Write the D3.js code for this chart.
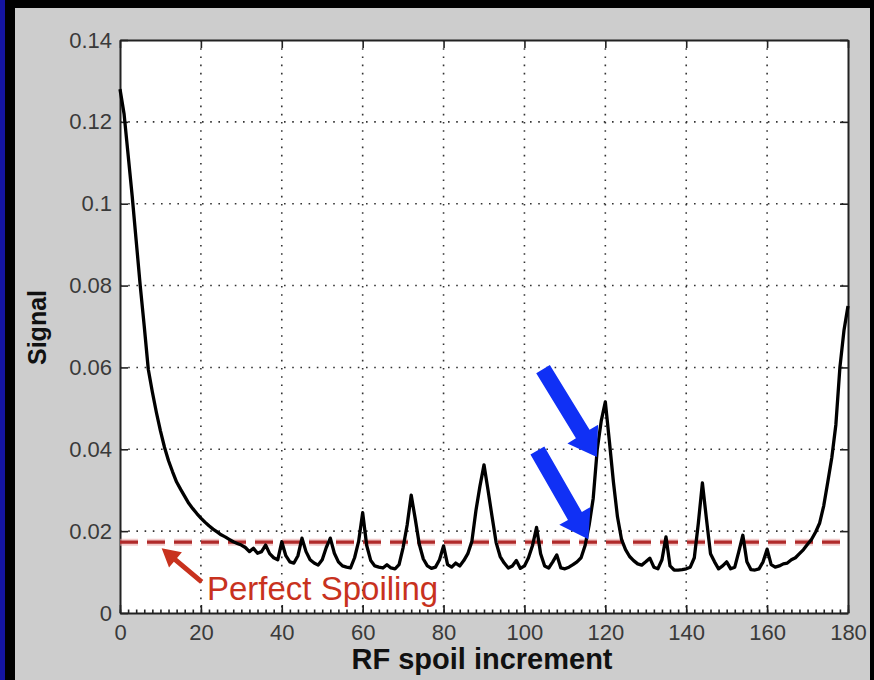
<!DOCTYPE html>
<html>
<head>
<meta charset="utf-8">
<script src="https://cdn.jsdelivr.net/npm/d3@7"></script>
<style>
  html, body { margin: 0; padding: 0; background: #000; }
  svg { display: block; }
</style>
</head>
<body>
<svg id="chart"></svg>
<script>
// RF spoil increment (degrees), one sample per degree
const increments = d3.range(0, 181);
const signal = [
  0.128, 0.122, 0.112, 0.102, 0.091, 0.080, 0.070, 0.0595, 0.054, 0.049,
  0.0445, 0.0405, 0.0372, 0.0345, 0.032, 0.0302, 0.0285, 0.0268, 0.0255, 0.0243,
  0.0232, 0.0222, 0.0213, 0.0205, 0.0198, 0.0191, 0.0186, 0.0180, 0.0174, 0.0170,
  0.0166, 0.0160, 0.0150, 0.0158, 0.0146, 0.0150, 0.0166, 0.0145, 0.0135, 0.0130,
  0.0174, 0.0140, 0.0125, 0.0122, 0.0140, 0.0183, 0.0150, 0.0130, 0.0122, 0.0117,
  0.0130, 0.0160, 0.0183, 0.0146, 0.0125, 0.0115, 0.0112, 0.0110, 0.0135, 0.0175,
  0.0245, 0.0165, 0.0128, 0.0115, 0.0112, 0.0110, 0.0118, 0.0110, 0.0108, 0.0118,
  0.0160, 0.0215, 0.0288, 0.0230, 0.0168, 0.0132, 0.0115, 0.0109, 0.0112, 0.0130,
  0.0164, 0.0118, 0.0112, 0.0122, 0.0115, 0.0128, 0.0145, 0.0175, 0.0250, 0.0310,
  0.0362, 0.0300, 0.0235, 0.0172, 0.0138, 0.0122, 0.0110, 0.0115, 0.0128, 0.0109,
  0.0115, 0.0135, 0.0165, 0.0209, 0.0145, 0.0115, 0.0110, 0.0125, 0.0142, 0.0110,
  0.0108, 0.0112, 0.0118, 0.0125, 0.0135, 0.0165, 0.0215, 0.0280, 0.0400, 0.0470,
  0.0516, 0.0420, 0.0320, 0.0235, 0.0180, 0.0155, 0.0138, 0.0128, 0.0120, 0.0117,
  0.0125, 0.0134, 0.0112, 0.0108, 0.0130, 0.0186, 0.0115, 0.0105, 0.0105, 0.0106,
  0.0108, 0.0112, 0.0135, 0.0220, 0.0318, 0.0230, 0.0145, 0.0125, 0.0108, 0.0115,
  0.0125, 0.0108, 0.0112, 0.0150, 0.0190, 0.0125, 0.0106, 0.0105, 0.0108, 0.0125,
  0.0156, 0.0118, 0.0112, 0.0115, 0.0120, 0.0122, 0.0130, 0.0135, 0.0145, 0.0155,
  0.0168, 0.0180, 0.0198, 0.0220, 0.0262, 0.0320, 0.0380, 0.0460, 0.0600, 0.0690,
  0.0750
];

const perfectSpoiling = 0.0173;

const xTicks = [0, 20, 40, 60, 80, 100, 120, 140, 160, 180];
const xMinorTicks = d3.range(0, 181, 2);
const yTicks = [0, 0.02, 0.04, 0.06, 0.08, 0.1, 0.12, 0.14];
const yTickLabels = ["0", "0.02", "0.04", "0.06", "0.08", "0.1", "0.12", "0.14"];

// annotation arrows, in data units: [x0, y0, x1, y1]
const blueArrows = [
  [104.6, 0.0596, 117.9, 0.0381],
  [103.2, 0.0397, 115.8, 0.0180]
];
const redArrow = [20.2, 0.0076, 10.3, 0.0158];
const labelPos = [21.5, 0.0032];

const W = 874, H = 680;
const plot = { left: 120, top: 40, right: 848, bottom: 613 };

const svg = d3.select('#chart').attr('width', W).attr('height', H);

svg.append('rect').attr('width', W).attr('height', H).attr('fill', '#000');
svg.append('rect').attr('x', 0).attr('y', 0).attr('width', 5).attr('height', H).attr('fill', '#1414a0');
svg.append('rect').attr('x', 15).attr('y', 8).attr('width', 855).attr('height', H - 8).attr('fill', '#cdcdcd');
svg.append('rect')
  .attr('x', plot.left).attr('y', plot.top)
  .attr('width', plot.right - plot.left).attr('height', plot.bottom - plot.top)
  .attr('fill', '#fff');

const x = d3.scaleLinear().domain([0, 180]).range([plot.left, plot.right]);
const y = d3.scaleLinear().domain([0, 0.14]).range([plot.bottom, plot.top]);

// dotted grid
const grid = svg.append('g').attr('stroke', '#333').attr('stroke-width', 1.6)
  .attr('stroke-dasharray', '1.6 6.6');
grid.selectAll('.gx').data(xTicks.slice(1, -1)).enter().append('line')
  .attr('x1', d => x(d)).attr('x2', d => x(d))
  .attr('y1', plot.top).attr('y2', plot.bottom);
grid.selectAll('.gy').data(yTicks.slice(1, -1)).enter().append('line')
  .attr('y1', d => y(d)).attr('y2', d => y(d))
  .attr('x1', plot.left).attr('x2', plot.right);

const font = '"Liberation Sans", Arial, Helvetica, sans-serif';

// axes with inward ticks
svg.append('g')
  .attr('transform', `translate(0,${plot.bottom})`)
  .call(d3.axisBottom(x).tickValues(xTicks).tickSizeInner(-8).tickSizeOuter(0).tickPadding(11));
svg.append('g')
  .attr('transform', `translate(0,${plot.bottom})`)
  .call(d3.axisBottom(x).tickValues(xMinorTicks).tickSizeInner(-3.5).tickSizeOuter(0).tickFormat(''))
  .call(g => g.select('.domain').remove());
svg.append('g')
  .attr('transform', `translate(0,${plot.top})`)
  .call(d3.axisTop(x).tickValues(xTicks).tickSizeInner(-8).tickSizeOuter(0).tickFormat(''));
svg.append('g')
  .attr('transform', `translate(${plot.left},0)`)
  .call(d3.axisLeft(y).tickValues(yTicks).tickSizeInner(-8).tickSizeOuter(0).tickPadding(8)
    .tickFormat((d, i) => yTickLabels[i]));
svg.append('g')
  .attr('transform', `translate(${plot.right},0)`)
  .call(d3.axisRight(y).tickValues(yTicks).tickSizeInner(-8).tickSizeOuter(0).tickFormat(''));

svg.selectAll('.domain').attr('stroke', '#222').attr('stroke-width', 2);
svg.selectAll('.tick line').attr('stroke', '#222').attr('stroke-width', 1.6);
svg.selectAll('.tick text').attr('fill', '#3a3a3a').style('font-family', font).style('font-size', '22px');

// reference line
svg.append('line')
  .attr('x1', x(0)).attr('x2', x(180))
  .attr('y1', y(perfectSpoiling)).attr('y2', y(perfectSpoiling))
  .attr('stroke', '#e9a3a3').attr('stroke-width', 7).attr('stroke-opacity', 0.55)
  .attr('stroke-dasharray', '18 9');
svg.append('line')
  .attr('x1', x(0)).attr('x2', x(180))
  .attr('y1', y(perfectSpoiling)).attr('y2', y(perfectSpoiling))
  .attr('stroke', '#b02a2a').attr('stroke-width', 3.2)
  .attr('stroke-dasharray', '18 9');

// signal curve
const line = d3.line().x((d, i) => x(increments[i])).y(d => y(d));
svg.append('path')
  .datum(signal)
  .attr('d', line)
  .attr('fill', 'none')
  .attr('stroke', '#000')
  .attr('stroke-width', 3.3)
  .attr('stroke-linejoin', 'round');

// arrows
function arrow(a, color, shaft, headW, headL) {
  const x0 = x(a[0]), y0 = y(a[1]), x1 = x(a[2]), y1 = y(a[3]);
  const dx = x1 - x0, dy = y1 - y0, len = Math.hypot(dx, dy);
  const ux = dx / len, uy = dy / len, px = -uy, py = ux;
  const bx = x1 - ux * headL, by = y1 - uy * headL;
  const pts = [
    [x0 + px * shaft / 2, y0 + py * shaft / 2],
    [bx + px * shaft / 2, by + py * shaft / 2],
    [bx + px * headW / 2, by + py * headW / 2],
    [x1, y1],
    [bx - px * headW / 2, by - py * headW / 2],
    [bx - px * shaft / 2, by - py * shaft / 2],
    [x0 - px * shaft / 2, y0 - py * shaft / 2]
  ];
  svg.append('polygon').attr('points', pts.map(p => p.join(',')).join(' ')).attr('fill', color);
}
blueArrows.forEach(a => arrow(a, '#1030f5', 16, 36, 27));
arrow(redArrow, '#c8321e', 5, 20, 18);

svg.append('text')
  .attr('x', x(labelPos[0])).attr('y', y(labelPos[1]))
  .attr('fill', '#c8321e')
  .style('font-family', font).style('font-size', '33px')
  .text('Perfect Spoiling');

// axis titles
svg.append('text')
  .attr('transform', `translate(46,${(plot.top + plot.bottom) / 2 + 1}) rotate(-90)`)
  .attr('text-anchor', 'middle')
  .style('font-family', font).style('font-size', '25px').style('font-weight', 'bold')
  .attr('fill', '#111')
  .text('Signal');
svg.append('text')
  .attr('x', 482).attr('y', 669)
  .attr('text-anchor', 'middle')
  .style('font-family', font).style('font-size', '29px').style('font-weight', 'bold')
  .attr('fill', '#111')
  .text('RF spoil increment');
</script>
</body>
</html>
